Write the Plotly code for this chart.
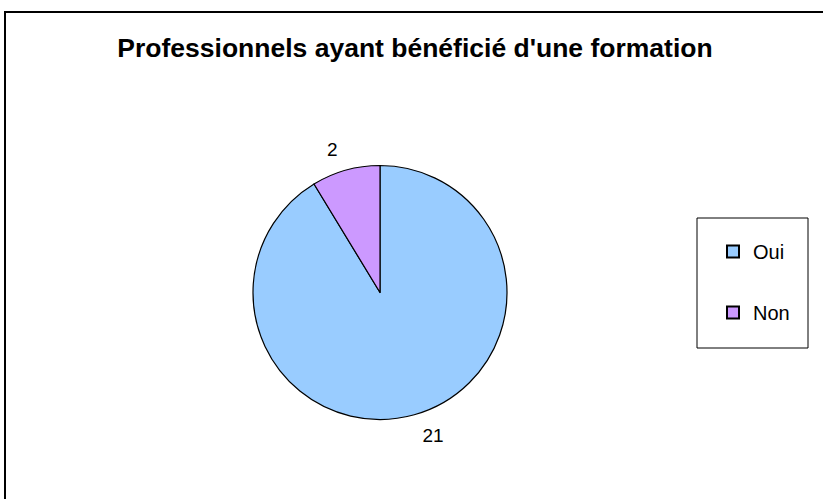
import plotly.graph_objects as go

TITLE = "Professionnels ayant bénéficié d'une formation"
labels = ["Oui", "Non"]
values = [21, 2]
colors = ["#99CCFF", "#CC99FF"]

W, H = 823, 499
FONT = "Liberation Sans, Arial"
CX, CY, R = 380, 292.5, 127   # pie centre / radius in px
RL = 138                      # radius of the invisible label ring


def dom(r):
  return dict(x=[(CX - r) / W, (CX + r) / W], y=[1 - (CY + r) / H, 1 - (CY - r) / H])


fig = go.Figure()
fig.add_trace(go.Pie(
  labels=labels,
  values=values,
  marker=dict(colors=colors, line=dict(color="black", width=1.2)),
  sort=False,
  direction="clockwise",
  rotation=0,
  textinfo="none",
  showlegend=False,
  hoverinfo="label+value+percent",
  domain=dom(R),
))
# same data on a slightly larger transparent ring, only to carry the outside labels
fig.add_trace(go.Pie(
  labels=labels,
  values=values,
  marker=dict(colors=["rgba(0,0,0,0)"] * len(values), line=dict(width=0)),
  sort=False,
  direction="clockwise",
  rotation=0,
  textinfo="value",
  textposition="outside",
  textfont=dict(family=FONT, size=19, color="black"),
  showlegend=False,
  hoverinfo="skip",
  domain=dom(RL),
))

# legend entries as square markers, one group each so the gap can be set
for lab, col in zip(labels, colors):
  fig.add_trace(go.Scatter(
    x=[None], y=[None], mode="markers", name=lab, legendgroup=lab,
    marker=dict(symbol="square", size=8, color=col, line=dict(color="black", width=1)),
  ))

fig.update_layout(
  width=W, height=H,
  margin=dict(l=0, r=0, t=0, b=0),
  paper_bgcolor="white", plot_bgcolor="white",
  font=dict(family=FONT, size=19, color="black"),
  title=dict(text="<b>" + TITLE + "</b>", x=415 / W, xanchor="center",
             y=1 - 48 / H, yanchor="middle",
             font=dict(family=FONT, size=26.5, color="black")),
  xaxis=dict(visible=False), yaxis=dict(visible=False),
  legend=dict(x=713 / W, xanchor="left", y=1 - 232 / H, yanchor="top",
              borderwidth=0, bgcolor="rgba(0,0,0,0)",
              tracegroupgap=32, itemsizing="constant",
              font=dict(family=FONT, size=20)),
  shapes=[
    # chart frame
    dict(type="rect", xref="paper", yref="paper",
         x0=5 / W, x1=1.01, y0=-0.01, y1=1 - 12 / H,
         line=dict(color="black", width=2), layer="below"),
    # legend box
    dict(type="rect", xref="paper", yref="paper",
         x0=697 / W, x1=808 / W, y0=1 - 348 / H, y1=1 - 218 / H,
         line=dict(color="black", width=1), fillcolor="white", layer="below"),
  ],
)

fig.write_html("out.html", config={"displayModeBar": False},
               post_script="document.body.style.margin='0';")
